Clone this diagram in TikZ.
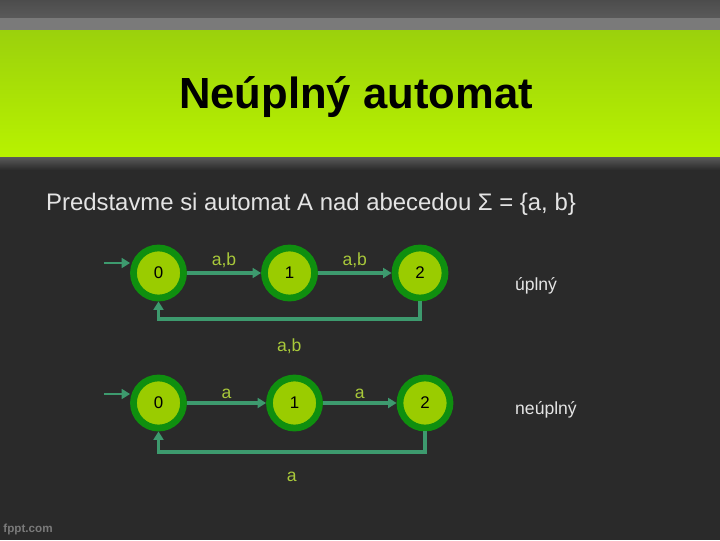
\documentclass[tikz,border=0pt]{standalone}
\usepackage{fontspec}
\setmainfont{Liberation Sans}
\usetikzlibrary{arrows.meta,positioning}
\definecolor{slidedark}{HTML}{2A2A2A}
\definecolor{topgray}{HTML}{5A5A5A}
\definecolor{stripgray}{HTML}{7A7A7A}
\definecolor{bandtop}{HTML}{9BD10C}
\definecolor{bandbottom}{HTML}{B8F200}
\definecolor{ringgreen}{HTML}{0F8F0F}
\definecolor{stategreen}{HTML}{9ACC00}
\definecolor{edgeteal}{HTML}{3D9A6E}
\definecolor{labelgreen}{HTML}{A8C83A}
\definecolor{lighttext}{HTML}{E4E4E4}
\definecolor{logogray}{HTML}{7A7A7A}
\tikzset{
  state/.style={
    circle,
    draw=ringgreen,
    fill=stategreen,
    line width=4.8pt,
    minimum size=35.6pt,
    inner sep=0pt,
    font=\fontsize{12}{14}\selectfont
  },
  trans/.style={-{Triangle[length=6pt, width=7pt]}, line width=2.8pt, draw=edgeteal},
  entry/.style={trans, line width=2.1pt},
  lbl/.style={text=labelgreen, font=\fontsize{12.5}{14}\selectfont, inner sep=2pt},
  side/.style={text=lighttext, font=\fontsize{12.5}{14}\selectfont}
}

\begin{document}
\begin{tikzpicture}[x=0.025cm, y=-0.025cm]
  % slide background
  \useasboundingbox (0,0) rectangle (720,540);
  \fill[slidedark] (0,0) rectangle (720,540);
  \shade[top color=topgray!85!black, bottom color=topgray] (0,0) rectangle (720,18);
  \fill[stripgray] (0,18) rectangle (720,30);
  \shade[top color=bandtop, bottom color=bandbottom] (0,30) rectangle (720,157);
  \shade[top color=topgray, bottom color=slidedark] (0,157) rectangle (720,170);

  \node[font=\bfseries\fontsize{31}{36}\selectfont, text=black] (title) at (356,97)
    {Neúplný automat};
  \node[font=\fontsize{17}{20}\selectfont, text=lighttext] (intro) at (311,204)
    {Predstavme si automat A nad abecedou Σ = \{a, b\}};

  % complete automaton
  \node[state] (a0) at (158.5,273) {0};
  \node[state] (a1) at (289.5,273) {1};
  \node[state] (a2) at (420,273) {2};
  \coordinate (starta) at (104,263);
  \draw[entry] (starta) -- (starta -| a0.west);
  \draw[trans] (a0) -- node[lbl, above] {a,b} (a1);
  \draw[trans] (a1) -- node[lbl, above] {a,b} (a2);
  \draw[trans] (a2.south) -- ++(0,18) -| node[lbl, pos=0.25, below=3.6mm] {a,b} (a0.south);
  \node[side] (full) at (536,286) {úplný};

  % incomplete automaton
  \node[state] (b0) at (158.5,403) {0};
  \node[state] (b1) at (294.5,403) {1};
  \node[state] (b2) at (425,403) {2};
  \coordinate (startb) at (104,394);
  \draw[entry] (startb) -- (startb -| b0.west);
  \draw[trans] (b0) -- node[lbl, above] {a} (b1);
  \draw[trans] (b1) -- node[lbl, above] {a} (b2);
  \draw[trans] (b2.south) -- ++(0,21) -| node[lbl, pos=0.25, below=3.6mm] {a} (b0.south);
  \node[side] (partial) at (546,410) {neúplný};

  \node[font=\bfseries\fontsize{8.3}{10}\selectfont, text=logogray] (logo) at (28,529) {fppt.com};
\end{tikzpicture}
\end{document}
